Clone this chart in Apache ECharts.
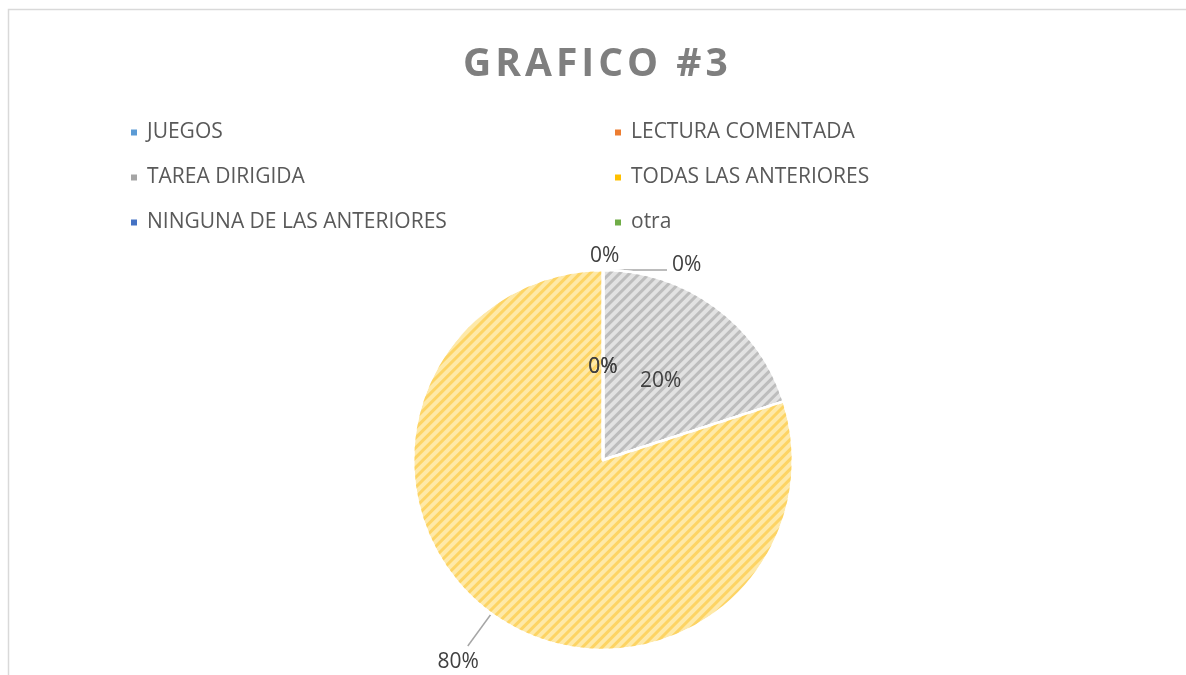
<!DOCTYPE html>
<html>
<head>
<meta charset="utf-8">
<script src="https://cdn.jsdelivr.net/npm/echarts@6/dist/echarts.min.js"></script>
<style>
  html, body { margin: 0; padding: 0; background: #fff; }
  #chart { width: 1186px; height: 675px; }
</style>
</head>
<body>
<div id="chart"></div>
<script>
// categorias y valores (porcentajes)
const categorias = ['JUEGOS', 'LECTURA COMENTADA', 'TAREA DIRIGIDA', 'TODAS LAS ANTERIORES', 'NINGUNA DE LAS ANTERIORES', 'otra'];
const valores = [0, 0, 20, 80, 0, 0];
const colores = ['#5B9BD5', '#ED7D31', '#A5A5A5', '#FFC000', '#4472C4', '#70AD47'];
// relleno con trama (slice claro + rayas)
const rellenos = ['#a9cbea', '#f5b88d', '#e2e2e2', '#fee9a8', '#a0b7e1', '#b3d49b'];
const rayas = ['#7fb1e0', '#f09a5c', '#bdbdbd', '#fdd464', '#6f93d2', '#91c271'];
const titulo = 'GRAFICO #3';

// columnas de la leyenda
const leyendaIzq = [0, 2, 4];
const leyendaDer = [1, 3, 5];

// posicion de etiqueta por porcion
const posEtiqueta = ['outside', 'outside', 'inside', 'outside', 'inside', 'inside'];

let chart = echarts.init(document.getElementById('chart'));

// titulo con espaciado entre letras
const tituloRich = titulo.split('').map(c => '{t|' + (c === ' ' ? '\u00a0' : c) + '}').join('');

const datos = categorias.map((n, i) => ({
  name: n,
  value: valores[i],
  itemStyle: {
    color: rellenos[i],
    decal: {
      symbol: 'rect',
      dashArrayX: [1, 0],
      dashArrayY: [3, 4],
      rotation: -Math.PI / 4,
      color: rayas[i]
    }
  },
  label: { position: posEtiqueta[i] },
  labelLine: i === 0 ? { show: false, length: 8, length2: 0 } :
             i === 1 ? { show: true, length: 0, length2: 64 } :
             { show: true, length: 40, length2: 0 }
}));

const legendBase = {
  orient: 'vertical',
  itemWidth: 8,
  itemHeight: 8,
  itemGap: 24,
  icon: 'rect',
  itemStyle: { decal: 'none' },
  textStyle: { fontSize: 21, lineHeight: 21, color: '#595959', fontFamily: 'Open Sans', padding: [0, 0, 0, 4] },
  selectedMode: false
};

const legendData = idx => idx.map(i => ({ name: categorias[i], itemStyle: { color: colores[i], decal: 'none' } }));

chart.setOption({
  animation: false,
  title: {
    text: tituloRich,
    left: 456,
    top: 40,
    textStyle: {
      rich: {
        t: { fontSize: 39, fontWeight: 'bold', color: '#7f7f7f', fontFamily: 'Open Sans', padding: [0, 2] }
      }
    }
  },
  graphic: [{
    type: 'polyline',
    shape: { points: [[8.5, 675], [8.5, 9.5], [1186, 9.5]] },
    style: { stroke: '#d9d9d9', lineWidth: 1.5, fill: null },
    silent: true
  }],
  legend: [
    Object.assign({}, legendBase, { data: legendData(leyendaIzq), left: 124, top: 117 }),
    Object.assign({}, legendBase, { data: legendData(leyendaDer), left: 608, top: 117 })
  ],
  color: colores,
  series: [{
    type: 'pie',
    center: [603, 460],
    radius: 190,
    startAngle: 89.99,
    clockwise: true,
    avoidLabelOverlap: false,
    itemStyle: { borderColor: '#fff', borderWidth: 2.5 },
    label: {
      show: true,
      formatter: '{d}%',
      fontSize: 21,
      color: '#404040',
      fontFamily: 'Open Sans'
    },
    labelLine: { lineStyle: { color: '#a6a6a6', width: 1.5 } },
    labelLayout: function (p) {
      if (p.dataIndex === 0) return { dx: -18, dy: -6 };
      if (p.dataIndex === 1) return { dy: -5 };
      if (p.dataIndex === 3) return { dx: 16, dy: 16 };
      if (p.dataIndex === 4 || p.dataIndex === 5) return { dy: 5 };
      return {};
    },
    data: datos
  }]
});
</script>
</body>
</html>
